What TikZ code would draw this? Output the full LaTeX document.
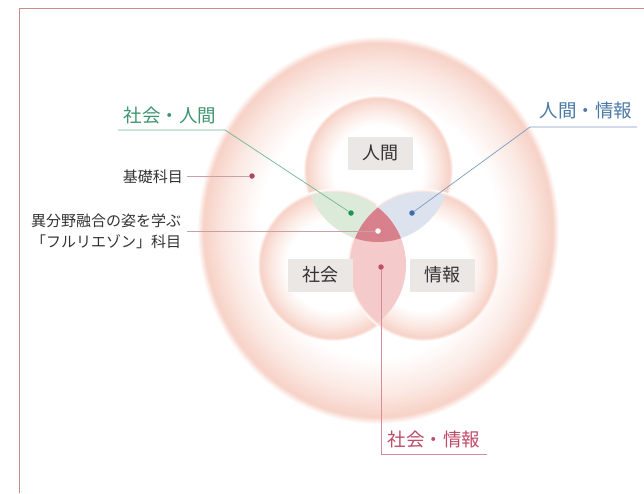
\documentclass[tikz,border=0pt]{standalone}
\usepackage{fontspec}
\newfontfamily\jp{Noto Sans CJK JP}
\definecolor{rimpink}{HTML}{F7D2C7}
\definecolor{rimmid}{HTML}{FBE9E3}
\definecolor{framec}{HTML}{C98C8C}
\definecolor{lensgreen}{HTML}{DCEADA}
\definecolor{lensblue}{HTML}{DDE3EE}
\definecolor{lenspink}{HTML}{F5CACA}
\definecolor{triplered}{HTML}{D9808D}
\definecolor{boxgrey}{HTML}{EBE7E4}
\definecolor{textgreen}{HTML}{3E9670}
\definecolor{linegreen}{HTML}{6FB892}
\definecolor{dotgreen}{HTML}{1E9455}
\definecolor{textblue}{HTML}{4B78A5}
\definecolor{lineblue}{HTML}{7D9CC0}
\definecolor{dotblue}{HTML}{3C6DAA}
\definecolor{textred}{HTML}{C04B68}
\definecolor{linered}{HTML}{D98A98}
\definecolor{dotred}{HTML}{C0506A}
\definecolor{greyline}{HTML}{C9A0A6}
\definecolor{darktext}{HTML}{333333}
\pgfdeclareradialshading{outerrim}{\pgfpointorigin}{color(0bp)=(white); color(16.5bp)=(white); color(21bp)=(rimmid); color(24.1bp)=(rimpink); color(25bp)=(white); color(50bp)=(white)}
\pgfdeclareradialshading{innerrim}{\pgfpointorigin}{color(0bp)=(white); color(15bp)=(white); color(20bp)=(rimmid); color(23.9bp)=(rimpink); color(25bp)=(white); color(50bp)=(white)}
\tikzset{
  outerglow/.style={shading=outerrim},
  innerglow/.style={shading=innerrim},
  labelbox/.style={fill=boxgrey, minimum width=65pt, minimum height=33pt, inner sep=0pt, text=darktext, font=\jp\fontsize{18}{20}\selectfont},
  caption/.style={inner sep=0pt, font=\jp\fontsize{18.5}{20}\selectfont},
  small/.style={inner sep=0pt, text=darktext, font=\jp\fontsize{15}{21}\selectfont},
  dotmark/.style={circle, inner sep=0pt, minimum size=5.5pt},
  leader/.style={line width=0.7pt},
}
\begin{document}
\begin{tikzpicture}[x=1pt,y=-1pt]
\useasboundingbox (0,0) rectangle (644,493);
\fill[white] (0,0) rectangle (644,493);
\draw[framec, line width=0.8pt] (19,493) -- (19,8) -- (644,8);
% outer ellipse
\shade[outerglow] (378,230) ellipse [x radius=181pt, y radius=194pt];
% three circles
\shade[innerglow] (378,170) circle [radius=75pt];
\shade[innerglow] (333,265) circle [radius=76pt];
\shade[innerglow] (423,265) circle [radius=76pt];
% lenses
\begin{scope}
  \clip (378,170) circle [radius=72pt];
  \fill[lensgreen] (333,265) circle [radius=73pt];
  \fill[lensblue] (423,265) circle [radius=73pt];
\end{scope}
\begin{scope}
  \clip (333,265) circle [radius=73pt];
  \fill[lenspink] (423,265) circle [radius=73pt];
\end{scope}
\begin{scope}
  \clip (378,170) circle [radius=72pt];
  \clip (333,265) circle [radius=73pt];
  \fill[triplered] (423,265) circle [radius=73pt];
\end{scope}
% boxes
\node[labelbox] (human) at (380,153) {人間};
\node[labelbox] (society) at (320,275) {社会};
\node[labelbox] (info) at (442,275) {情報};
% dots
\node[dotmark, fill=dotgreen] (dgreen) at (351,213) {};
\node[dotmark, fill=dotblue] (dblue) at (412,213) {};
\node[dotmark, fill=dotred] (dred) at (381,267) {};
\node[dotmark, fill=dotred!90!black] (dbasic) at (252,176) {};
\node[dotmark, fill=white] (dwhite) at (378,231) {};
% captions
\node[caption, text=textgreen] (tsh) at (170,115) {社会・人間};
\node[caption, text=textblue] (thi) at (586,110) {人間・情報};
\node[caption, text=textred] (tsi) at (434,439) {社会・情報};
\node[small, anchor=east] (tbasic) at (183,177) {基礎科目};
\node[small, anchor=west, align=left] (tfusion) at (31,231) {異分野融合の姿を学ぶ\\「フルリエゾン」科目};
% leader coordinates
\coordinate (g1) at (118,130);
\coordinate (g2) at (225,130);
\coordinate (b1) at (637,127);
\coordinate (b2) at (530,127);
\coordinate (r1) at (381,454);
\coordinate (r2) at (487,454);
\coordinate (k1) at (187,176);
\coordinate (f1) at (187,231);
% leaders
\draw[leader, linegreen] (g1) -- (g2) -- (dgreen);
\draw[leader, lineblue] (b1) -- (b2) -- (dblue);
\draw[leader, linered] (dred) -- (r1) -- (r2);
\draw[leader, greyline] (k1) -- (dbasic);
\draw[leader, greyline] (f1) -- (dwhite);
\end{tikzpicture}
\end{document}
